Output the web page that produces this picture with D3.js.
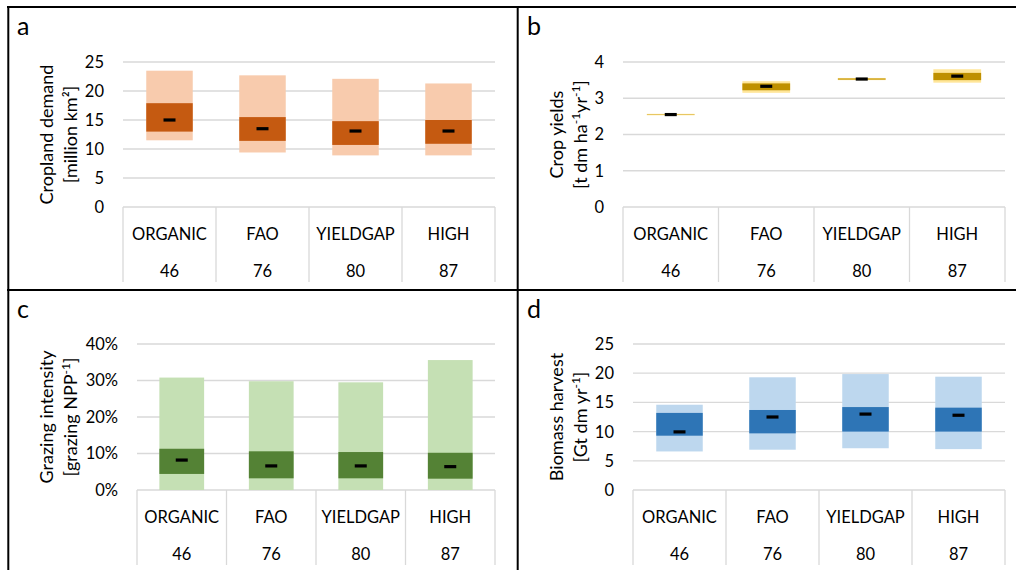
<!DOCTYPE html>
<html>
<head>
<meta charset="utf-8">
<script src="https://cdn.jsdelivr.net/npm/d3@7"></script>
<style>
  body { margin: 0; background: #fff; }
  svg { display: block; font-family: Lato, "Open Sans", sans-serif; }
  .tick-label, .cat-label { font-size: 16.5px; fill: #000; }
  .y-title { font-size: 18px; fill: #000; }
  .panel-letter { font-size: 25px; fill: #000; }
</style>
</head>
<body>
<script>
// scenario names along the bottom table, and the number under each
const scenarios = ['ORGANIC', 'FAO', 'YIELDGAP', 'HIGH'];
const scenarioNumbers = ['46', '76', '80', '87'];

// a - cropland demand [million km2]
const croplandOuterLow = [11.5, 9.4, 8.9, 8.9];
const croplandOuterHigh = [23.5, 22.7, 22.1, 21.3];
const croplandInnerLow = [13.0, 11.4, 10.7, 10.9];
const croplandInnerHigh = [17.9, 15.5, 14.8, 15.0];
const croplandMedian = [15.0, 13.5, 13.1, 13.1];
const croplandTicks = [0, 5, 10, 15, 20, 25];

// b - crop yields [t dm ha-1 yr-1]
const yieldOuterLow = [2.53, 3.15, 3.50, 3.43];
const yieldOuterHigh = [2.57, 3.47, 3.56, 3.80];
const yieldInnerLow = [2.545, 3.22, 3.515, 3.50];
const yieldInnerHigh = [2.555, 3.41, 3.545, 3.70];
const yieldMedian = [2.55, 3.33, 3.53, 3.61];
const yieldTicks = [0, 1, 2, 3, 4];

// c - grazing intensity [share of NPP]
const grazingOuterLow = [0, 0, 0, 0];
const grazingOuterHigh = [0.308, 0.298, 0.295, 0.356];
const grazingInnerLow = [0.044, 0.032, 0.032, 0.031];
const grazingInnerHigh = [0.113, 0.106, 0.104, 0.102];
const grazingMedian = [0.082, 0.066, 0.066, 0.064];
const grazingTicks = [0, 0.1, 0.2, 0.3, 0.4];

// d - biomass harvest [Gt dm yr-1]
const biomassOuterLow = [6.6, 6.9, 7.15, 7.0];
const biomassOuterHigh = [14.6, 19.3, 19.85, 19.4];
const biomassInnerLow = [9.3, 9.7, 10.0, 10.0];
const biomassInnerHigh = [13.2, 13.7, 14.2, 14.1];
const biomassMedian = [9.95, 12.5, 13.0, 12.8];
const biomassTicks = [0, 5, 10, 15, 20, 25];

const width = 1016;
const height = 570;

const svg = d3.select('body')
  .append('svg')
  .attr('width', width)
  .attr('height', height);

const panels = [
  {
    letter: 'a', px: 0, py: 0, x0: 123, x1: 495, yTop: 62, yBase: 207,
    lo: croplandOuterLow, hi: croplandOuterHigh, ilo: croplandInnerLow, ihi: croplandInnerHigh, med: croplandMedian,
    ticks: croplandTicks, fmt: d3.format('d'),
    light: '#F8CBAD', dark: '#C55A11',
    title: [[{ t: 'Cropland demand' }], [{ t: '[million km²]' }]]
  },
  {
    letter: 'b', px: 510, py: 0, x0: 623, x1: 1005, yTop: 62, yBase: 207,
    lo: yieldOuterLow, hi: yieldOuterHigh, ilo: yieldInnerLow, ihi: yieldInnerHigh, med: yieldMedian,
    ticks: yieldTicks, fmt: d3.format('d'),
    light: '#FFE699', dark: '#BF9000',
    title: [[{ t: 'Crop yields' }], [{ t: '[t dm ha' }, { t: '-1', sup: true }, { t: 'yr' }, { t: '-1', sup: true }, { t: ']' }]]
  },
  {
    letter: 'c', px: 0, py: 283, x0: 137, x1: 495, yTop: 344, yBase: 490,
    lo: grazingOuterLow, hi: grazingOuterHigh, ilo: grazingInnerLow, ihi: grazingInnerHigh, med: grazingMedian,
    ticks: grazingTicks, fmt: d3.format('.0%'),
    light: '#C5E0B4', dark: '#548235',
    title: [[{ t: 'Grazing intensity' }], [{ t: '[grazing NPP' }, { t: '-1', sup: true }, { t: ']' }]]
  },
  {
    letter: 'd', px: 510, py: 283, x0: 633, x1: 1005, yTop: 344, yBase: 490,
    lo: biomassOuterLow, hi: biomassOuterHigh, ilo: biomassInnerLow, ihi: biomassInnerHigh, med: biomassMedian,
    ticks: biomassTicks, fmt: d3.format('d'),
    light: '#BDD7EE', dark: '#2E75B6',
    title: [[{ t: 'Biomass harvest' }], [{ t: '[Gt dm yr' }, { t: '-1', sup: true }, { t: ']' }]]
  }
];

panels.forEach(p => {
  const g = svg.append('g');

  const x = d3.scaleBand()
    .domain(scenarios)
    .range([p.x0, p.x1])
    .paddingInner(0)
    .paddingOuter(0);

  const y = d3.scaleLinear()
    .domain([0, d3.max(p.ticks)])
    .range([p.yBase, p.yTop]);

  // gridlines
  g.selectAll('.grid')
    .data(p.ticks)
    .enter().append('line')
    .attr('x1', p.x0)
    .attr('x2', p.x1)
    .attr('y1', d => y(d))
    .attr('y2', d => y(d))
    .attr('stroke', '#D9D9D9')
    .attr('stroke-width', 1.3);

  // tick labels
  g.selectAll('.tick-label')
    .data(p.ticks)
    .enter().append('text')
    .attr('class', 'tick-label')
    .attr('x', p.x0 - 19)
    .attr('y', d => y(d))
    .attr('dy', '0.36em')
    .attr('text-anchor', 'end')
    .text(d => p.fmt(d));

  // category table below the axis
  const edges = scenarios.map(s => x(s)).concat([p.x1]);
  g.selectAll('.table-line')
    .data(edges)
    .enter().append('line')
    .attr('x1', d => d)
    .attr('x2', d => d)
    .attr('y1', p.yBase)
    .attr('y2', p.yBase + 75)
    .attr('stroke', '#D9D9D9')
    .attr('stroke-width', 1.3);

  g.selectAll('.cat-name')
    .data(scenarios)
    .enter().append('text')
    .attr('class', 'cat-label')
    .attr('x', d => x(d) + x.bandwidth() / 2)
    .attr('y', p.yBase + 33)
    .attr('text-anchor', 'middle')
    .text(d => d);

  g.selectAll('.cat-num')
    .data(scenarioNumbers)
    .enter().append('text')
    .attr('class', 'cat-label')
    .attr('x', (d, i) => x(scenarios[i]) + x.bandwidth() / 2)
    .attr('y', p.yBase + 70)
    .attr('text-anchor', 'middle')
    .text(d => d);

  const barW = x.bandwidth() * 0.5;
  const barX = i => x(scenarios[i]) + (x.bandwidth() - barW) / 2;

  // outer range
  g.selectAll('.outer')
    .data(p.hi)
    .enter().append('rect')
    .attr('x', (d, i) => barX(i))
    .attr('width', barW)
    .attr('y', d => y(d))
    .attr('height', (d, i) => y(p.lo[i]) - y(d))
    .attr('fill', p.light);

  // inner range
  g.selectAll('.inner')
    .data(p.ihi)
    .enter().append('rect')
    .attr('x', (d, i) => barX(i))
    .attr('width', barW)
    .attr('y', d => y(d))
    .attr('height', (d, i) => y(p.ilo[i]) - y(d))
    .attr('fill', p.dark);

  // median marker
  g.selectAll('.median')
    .data(p.med)
    .enter().append('rect')
    .attr('x', (d, i) => x(scenarios[i]) + x.bandwidth() / 2 - 6)
    .attr('width', 12)
    .attr('y', d => y(d) - 1.6)
    .attr('height', 3.2)
    .attr('fill', '#000');

  // y title (two lines, rotated)
  const cy = (p.yTop + p.yBase) / 2;
  p.title.forEach((line, li) => {
    const tx = p.px + 52.5 + li * 24.5;
    const t = g.append('text')
      .attr('class', 'y-title')
      .attr('text-anchor', 'middle')
      .attr('transform', `translate(${tx},${cy}) rotate(-90)`);
    let shift = 0;
    line.forEach(part => {
      const target = part.sup ? -7 : 0;
      const span = t.append('tspan').attr('dy', target - shift).text(part.t);
      if (part.sup) span.style('font-size', '12px');
      shift = target;
    });
  });

  // panel letter
  g.append('text')
    .attr('class', 'panel-letter')
    .attr('x', p.px + 17)
    .attr('y', p.py + 35)
    .text(p.letter);
});

// frame lines
const frame = [
  [7, 7, 1016, 7],
  [8.3, 6, 8.3, 570],
  [517.7, 6, 517.7, 570],
  [7, 290, 1016, 290]
];
svg.selectAll('.frame')
  .data(frame)
  .enter().append('line')
  .attr('x1', d => d[0])
  .attr('y1', d => d[1])
  .attr('x2', d => d[2])
  .attr('y2', d => d[3])
  .attr('stroke', '#000')
  .attr('stroke-width', 2);
</script>
</body>
</html>
